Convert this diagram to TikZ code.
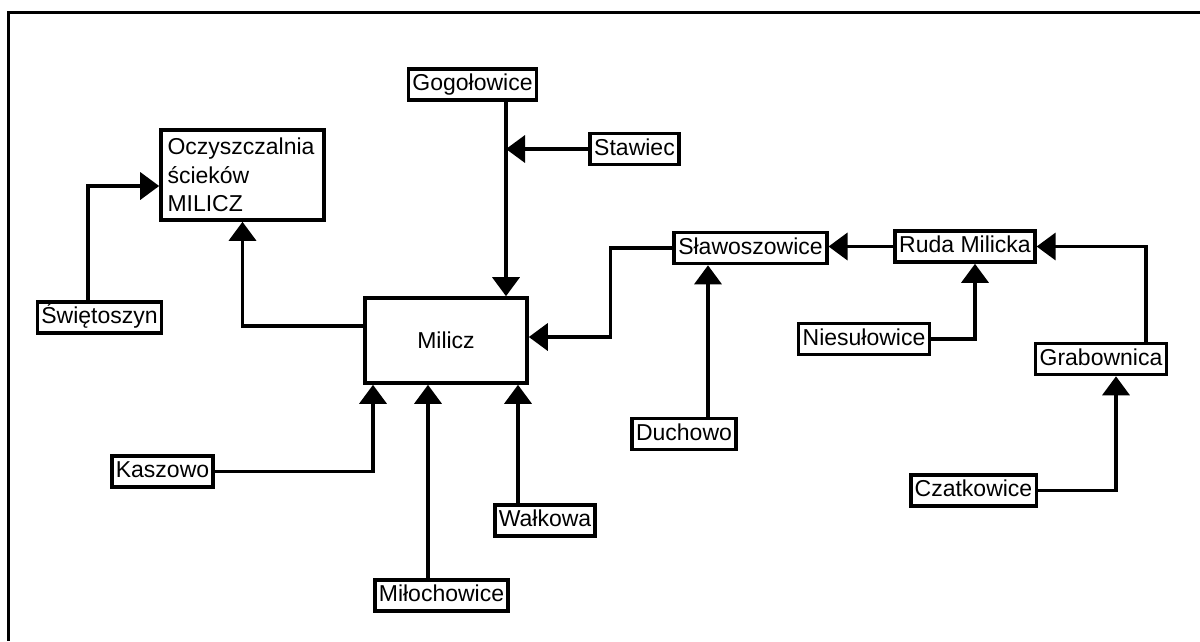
\documentclass[tikz,border=0pt]{standalone}
\usepackage{fontspec}
\setmainfont{Liberation Sans}
\usepackage{tikz}
\usetikzlibrary{arrows.meta,calc}
\tikzset{
  placeBox/.style={draw, line width=3.6pt, font=\fontsize{23}{28.5}\selectfont,
    text height=17pt, text depth=5pt, inner xsep=4pt, inner ysep=4.5pt},
  bigBox/.style={placeBox, text height=, text depth=},
  flowArrow/.style={line width=3.6pt, -{Triangle[length=19pt,width=27pt]}},
  flowLine/.style={line width=3.6pt},
  frameLine/.style={line width=3pt}
}

\begin{document}
\begin{tikzpicture}[x=1pt,y=-1pt]
  \useasboundingbox (0,0) rectangle (1200,641);
  \draw[frameLine] (1200,12) -- (8,12) -- (8,641);

  % main boxes
  \node[bigBox, minimum width=162pt, minimum height=85pt] (milicz) at (446,340.5) {Milicz};
  \node[bigBox, minimum width=163pt, minimum height=90pt, text width=150pt, align=left]
    (oczyszczalnia) at (242.5,175) {Oczyszczalnia\\ścieków\\MILICZ};

  % villages
  \node[placeBox] (swietoszyn) at (99.5,317.5) {Świętoszyn};
  \node[placeBox] (gogolowice) at (472.5,84.5) {Gogołowice};
  \node[placeBox] (stawiec) at (634.5,149) {Stawiec};
  \node[placeBox] (kaszowo) at (162.5,471.5) {Kaszowo};
  \node[placeBox] (milochowice) at (441.5,595.5) {Miłochowice};
  \node[placeBox] (walkowa) at (545,520.5) {Wałkowa};
  \node[placeBox] (slawoszowice) at (750.5,248) {Sławoszowice};
  \node[placeBox] (duchowo) at (684,434) {Duchowo};
  \node[placeBox] (ruda) at (965,246.5) {Ruda Milicka};
  \node[placeBox] (niesulowice) at (864,339) {Niesułowice};
  \node[placeBox] (grabownica) at (1101,359) {Grabownica};
  \node[placeBox] (czatkowice) at (973.5,490.5) {Czatkowice};

  \coordinate (joint) at ($(milicz.north)+(60,-190)$);
  \coordinate (duchowoUp) at ($(duchowo.north)+(24,0)$);
  \coordinate (walkowaUp) at ($(walkowa.north)+(-27,0)$);
  \coordinate (milochowiceUp) at ($(milochowice.north)+(-13.5,0)$);

  % connectors
  \draw[flowArrow] ($(swietoszyn.north)+(-11.5,0)$) |- ($(oczyszczalnia.west)+(0,11)$);
  \draw[flowArrow] ($(milicz.west)+(0,-14.5)$) -| (oczyszczalnia.south);
  \draw[flowArrow] (gogolowice.south -| joint) -- (joint |- milicz.north);
  \draw[flowArrow] (stawiec.west) -- (stawiec.west -| joint);
  \draw[flowArrow] (slawoszowice.west) -- ++(-62,0) |- ($(milicz.east)+(0,-3.5)$);
  \draw[flowArrow] (duchowoUp) -- (duchowoUp |- slawoszowice.south);
  \draw[flowArrow] (ruda.west) -- (ruda.west -| slawoszowice.east);
  \draw[flowArrow] (niesulowice.east) -| ($(ruda.south)+(10,0)$);
  \draw[flowArrow] ($(grabownica.north)+(45,0)$) |- (ruda.east);
  \draw[flowArrow] (czatkowice.east) -| ($(grabownica.south)+(15,0)$);
  \draw[flowArrow] (kaszowo.east) -| ($(milicz.south)+(-73,0)$);
  \draw[flowArrow] (milochowiceUp) -- (milochowiceUp |- milicz.south);
  \draw[flowArrow] (walkowaUp) -- (walkowaUp |- milicz.south);
\end{tikzpicture}
\end{document}
